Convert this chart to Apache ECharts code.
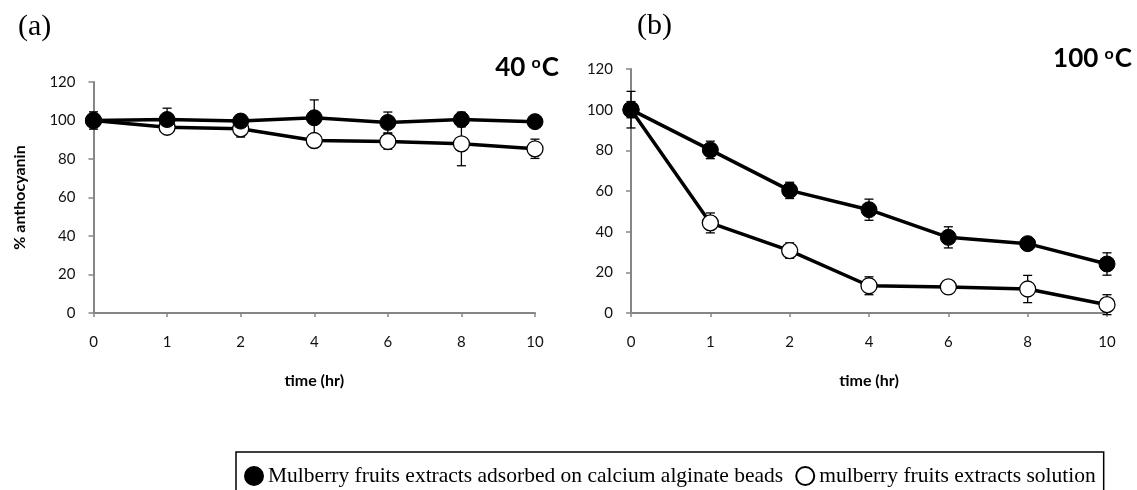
<!DOCTYPE html>
<html>
<head>
<meta charset="utf-8">
<script src="https://cdn.jsdelivr.net/npm/echarts@6/dist/echarts.min.js"></script>
<style>
html,body{margin:0;padding:0;background:#fff;}
#chart{width:1137px;height:490px;}
</style>
</head>
<body>
<div id="chart"></div>
<script>
const categories = ['0', '1', '2', '4', '6', '8', '10'];
const yTicks = [0, 20, 40, 60, 80, 100, 120];

const beadsName = 'Mulberry fruits extracts adsorbed on calcium alginate beads';
const solutionName = 'mulberry fruits extracts solution';

// (a) 40 oC
const beads40 = [100, 100.5, 99.7, 101.4, 99.0, 100.5, 99.4];
const beads40Err = [4.5, 5.9, 3.3, 9.3, 5.4, 3.8, 2.5];
const solution40 = [100, 96.5, 95.7, 89.6, 89.1, 87.9, 85.3];
const solution40Err = [3.5, 3.1, 4.3, 2.0, 4.0, 11.4, 5.0];

// (b) 100 oC
const beads100 = [100, 80.2, 60.3, 50.8, 37.2, 34.1, 24.1];
const beads100Err = [4.0, 4.3, 4.0, 5.2, 5.2, 2.0, 5.5];
const solution100 = [100, 44.3, 30.7, 13.4, 12.8, 11.8, 4.1];
const solution100Err = [9.0, 4.9, 3.8, 4.4, 1.0, 6.7, 4.9];

const sansFont = 'Lato';
const serifFont = 'Liberation Serif';

function errData(vals, errs) {
  return vals.map((v, i) => [i, v - errs[i], v + errs[i]]);
}
function errRender(params, api) {
  const x = api.value(0);
  const lo = api.coord([x, api.value(1)]);
  const hi = api.coord([x, api.value(2)]);
  const w = 4.5;
  const st = { stroke: '#000', lineWidth: 1.3 };
  return {
    type: 'group',
    children: [
      { type: 'line', shape: { x1: hi[0], y1: hi[1], x2: lo[0], y2: lo[1] }, style: st },
      { type: 'line', shape: { x1: hi[0] - w, y1: hi[1], x2: hi[0] + w, y2: hi[1] }, style: st },
      { type: 'line', shape: { x1: lo[0] - w, y1: lo[1], x2: lo[0] + w, y2: lo[1] }, style: st }
    ]
  };
}

function xAxisCfg(gi) {
  return {
    type: 'category', gridIndex: gi, data: categories, boundaryGap: false,
    axisLine: { lineStyle: { color: '#868686', width: 2 } },
    axisTick: { show: true, length: 4, lineStyle: { color: '#868686', width: 1.5 } },
    axisLabel: { color: '#111', fontFamily: sansFont, fontSize: 15, margin: 22 },
    name: 'time (hr)', nameLocation: 'middle', nameGap: 60,
    nameTextStyle: { color: '#000', fontFamily: sansFont, fontWeight: 'bold', fontSize: 16 }
  };
}
function yAxisCfg(gi, withName) {
  const c = {
    type: 'value', gridIndex: gi, min: yTicks[0], max: yTicks[yTicks.length - 1], interval: 20,
    axisLine: { show: true, lineStyle: { color: '#868686', width: 2 } },
    axisTick: { show: true, length: 5, lineStyle: { color: '#868686', width: 1.5 } },
    splitLine: { show: false },
    axisLabel: { color: '#111', fontFamily: sansFont, fontSize: 15, margin: 18 }
  };
  if (withName) {
    c.name = '% anthocyanin';
    c.nameLocation = 'middle';
    c.nameGap = 66;
    c.nameTextStyle = { color: '#000', fontFamily: sansFont, fontWeight: 'bold', fontSize: 16 };
  }
  return c;
}
function lineSeries(name, data, gi, filled) {
  return {
    name: name, type: 'line', xAxisIndex: gi, yAxisIndex: gi, data: data,
    symbol: 'circle', symbolSize: 16, z: 5,
    lineStyle: { color: '#000', width: 3.5 },
    itemStyle: filled ? { color: '#000', borderColor: '#000', borderWidth: 1 }
                      : { color: '#fff', borderColor: '#000', borderWidth: 1.3 },
    emphasis: { disabled: true }
  };
}
function errSeries(vals, errs, gi) {
  return {
    type: 'custom', xAxisIndex: gi, yAxisIndex: gi, z: 3,
    data: errData(vals, errs), renderItem: errRender,
    encode: { x: 0, y: [1, 2] }, silent: true
  };
}

const chart = echarts.init(document.getElementById('chart'), null, { renderer: 'canvas' });
const titleRich = {
  n: { fontFamily: sansFont, fontWeight: 'bold', fontSize: 26, color: '#000' },
  s: { fontFamily: sansFont, fontWeight: 'bold', fontSize: 16, color: '#000', verticalAlign: 'top', padding: [0, 1, 10, 0] }
};
chart.setOption({
  animation: false,
  backgroundColor: '#fff',
  title: [
    { text: '(a)', left: 18, top: 12, padding: 0, textStyle: { fontFamily: serifFont, fontWeight: 'normal', fontSize: 30, color: '#000' } },
    { text: '(b)', left: 637, top: 11, padding: 0, textStyle: { fontFamily: serifFont, fontWeight: 'normal', fontSize: 30, color: '#000' } },
    { text: '{n|40 }{s|o}{n|C}', right: 578, top: 55, padding: 0, textStyle: { rich: titleRich } },
    { text: '{n|100 }{s|o}{n|C}', right: 5, top: 46, padding: 0, textStyle: { rich: titleRich } }
  ],
  grid: [
    { left: 93.5, top: 82, width: 441.5, height: 231 },
    { left: 631, top: 69, width: 476, height: 244 }
  ],
  xAxis: [xAxisCfg(0), xAxisCfg(1)],
  yAxis: [yAxisCfg(0, true), yAxisCfg(1, false)],
  legend: {
    left: 236, top: 452,
    data: [beadsName, solutionName],
    icon: 'circle', itemWidth: 18, itemHeight: 18, itemGap: 12,
    borderColor: '#000', borderWidth: 1.5, padding: [13, 8, 40, 8],
    textStyle: { fontFamily: serifFont, fontSize: 21.5, color: '#000' },
    selectedMode: false
  },
  series: [
    errSeries(beads40, beads40Err, 0),
    errSeries(solution40, solution40Err, 0),
    errSeries(beads100, beads100Err, 1),
    errSeries(solution100, solution100Err, 1),
    lineSeries(solutionName, solution40, 0, false),
    lineSeries(beadsName, beads40, 0, true),
    lineSeries(solutionName, solution100, 1, false),
    lineSeries(beadsName, beads100, 1, true)
  ]
});
</script>
</body>
</html>
